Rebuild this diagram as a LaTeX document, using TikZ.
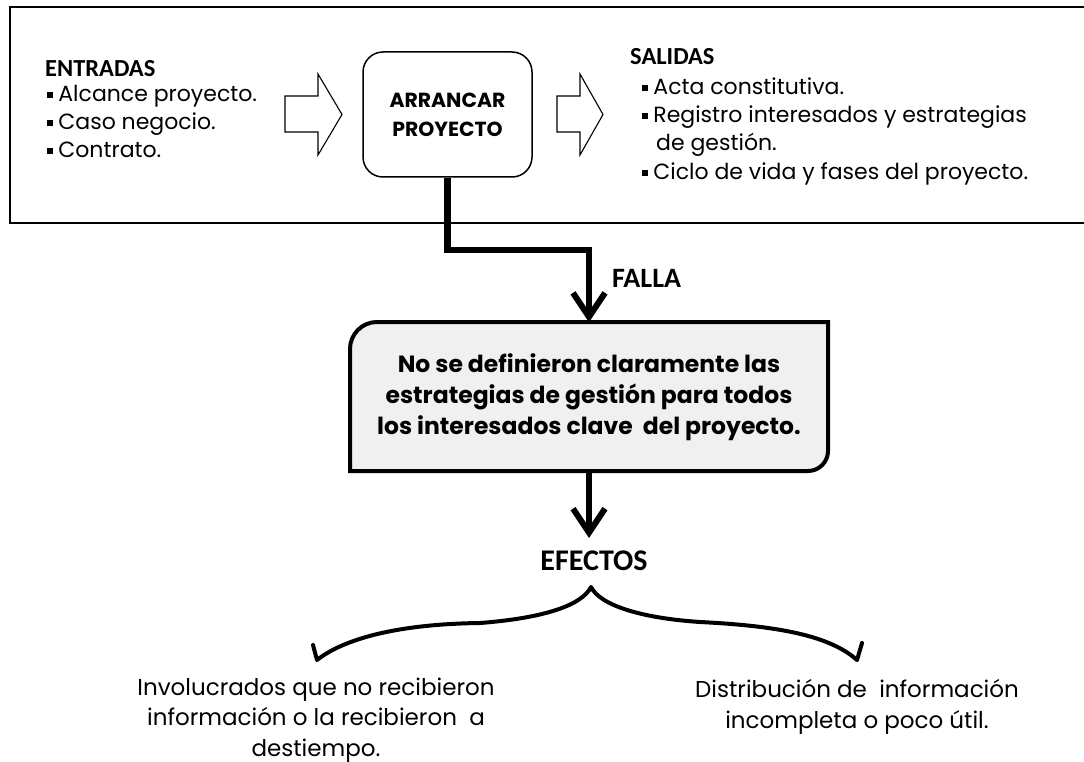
\documentclass[tikz,border=0pt]{standalone}
\usepackage{fontspec}
\setmainfont{Poppins}
\newfontfamily\headfont{Carlito}
\usetikzlibrary{arrows.meta,calc}
\newcommand\bul{\rule[0.2em]{0.26em}{0.26em}\hspace{0.25em}}
\begin{document}
\begin{tikzpicture}[x=1pt,y=-1pt,
  item/.style={anchor=base west, inner sep=0pt, font=\fontsize{22}{24}\selectfont},
  head/.style={anchor=base west, inner sep=0pt, font=\headfont\bfseries\fontsize{24.5}{26}\selectfont},
  bigword/.style={anchor=base west, inner sep=0pt, font=\headfont\bfseries\fontsize{28}{30}\selectfont},
  blockarrow/.style={draw, line width=1.1pt, fill=white, line join=miter},
  conn/.style={line width=6.5pt, -{Straight Barb[length=24pt,width=32pt,line width=6pt]}},
  brace/.style={line width=4pt, line cap=round, line join=round},
  effect/.style={anchor=base, inner sep=0pt, align=center, font=\fontsize{23}{30.5}\selectfont}
]
\useasboundingbox (0,0) rectangle (1084,762);
\fill[white] (0,0) rectangle (1084,762);

% outer frame (open on the right)
\draw[line width=2pt] (1090,7) -- (10,7) -- (10,223) -- (1090,223);

% inputs
\node[head] (ent) at (45,77) {ENTRADAS};
\node[item] (e1) at (47,102) {\bul Alcance proyecto.};
\node[item] (e2) at (47,130) {\bul Caso negocio.};
\node[item] (e3) at (47,158) {\bul Contrato.};

% block arrows
\draw[blockarrow] (285,96) -- (318,96) -- (318,74) -- (342,114.5) -- (318,155) -- (318,132) -- (285,132) -- cycle;
\draw[blockarrow] (557,96) -- (580,96) -- (580,74) -- (603,114.5) -- (580,155) -- (580,132) -- (557,132) -- cycle;

% process
\node[draw, rounded corners=20pt, line width=1.5pt, minimum width=169pt, minimum height=125pt,
      align=center, font=\bfseries\fontsize{20.4}{29}\selectfont] (arr) at (447.5,114.5) {ARRANCAR\\PROYECTO};

% outputs
\node[head] (sal) at (630,65) {SALIDAS};
\node[item] (s1) at (642,95) {\bul Acta constitutiva.};
\node[item] (s2) at (642,123) {\bul Registro interesados y estrategias};
\node[item] (s3) at (656,151) {de gestión.};
\node[item] (s4) at (642,180) {\bul Ciclo de vida y fases del proyecto.};

% failure box
\draw[line width=4pt, fill=black!6]
  (350,471) -- (350,349) .. controls (350,334.1) and (362.1,322) .. (377,322)
  -- (828,322) -- (828,451) .. controls (828,462) and (819,471) .. (808,471) -- cycle;
\node[minimum width=478pt, minimum height=149pt, inner sep=0pt, align=center,
      font=\bfseries\fontsize{23.5}{31}\selectfont] (fail) at (589,397)
  {No se definieron claramente las\\estrategias de gestión para todos\\los interesados clave\ \ del proyecto.};

% connector with FALLA
\draw[conn] (arr.south) -- (arr.south |- 0,250) -| (fail.north);
\node[bigword] (falla) at (612,287) {FALLA};

% effects
\coordinate (tip2) at (589,538);
\draw[conn] (fail.south) -- (tip2);
\node[bigword, anchor=base, font=\headfont\bfseries\fontsize{30}{30}\selectfont] (efe) at (594,570) {EFECTOS};

% brace
\coordinate (btop) at (591,587);
\coordinate (bl) at (317,660);
\coordinate (br) at (857,660);
\draw[brace] (313,645) -- (bl) .. controls (345,638) and (400,624) .. (480,623)
   .. controls (545,618) and (582,605) .. (btop)
   .. controls (600,605) and (640,618) .. (700,622)
   .. controls (780,626) and (830,636) .. (br) -- (862,643);

\node[effect] (ef1) at (316,756) {Involucrados que no recibieron\\información o la recibieron\ \ a\\destiempo.};
\node[effect] (ef2) at (857,728) {Distribución de\ \ información\\incompleta o poco útil.};
\end{tikzpicture}
\end{document}
